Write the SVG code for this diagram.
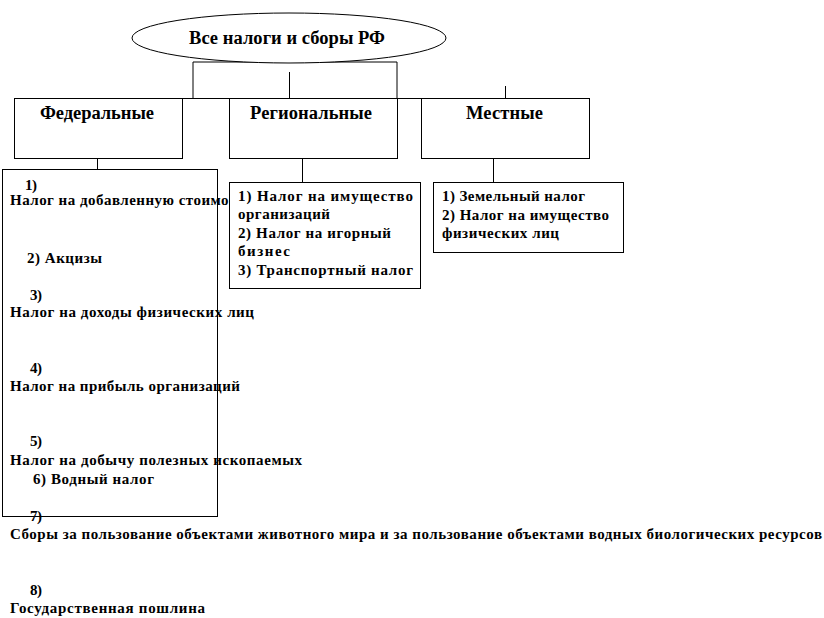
<svg xmlns="http://www.w3.org/2000/svg" width="824" height="618" viewBox="0 0 824 618">
<style>
.ln{stroke:#000;stroke-width:1;fill:none}
.bx{stroke:#000;stroke-width:1;fill:#fff}
.h{font-family:"Liberation Serif","Times New Roman","DejaVu Serif",serif;font-weight:bold;font-size:18.5px;fill:#000}
.t{font-family:"Liberation Serif","Times New Roman","DejaVu Serif",serif;font-weight:bold;font-size:15px;fill:#000}
</style>
<rect width="824" height="618" fill="#fff"/>
<g id="connectors">
<polyline class="ln" points="193,98 193,62 397,62 397,98"/>
<line class="ln" x1="289.5" y1="72" x2="289.5" y2="98"/>
<line class="ln" x1="505.5" y1="86" x2="505.5" y2="98"/>
<line class="ln" x1="182" y1="98.5" x2="229" y2="98.5"/>
<line class="ln" x1="397" y1="98.5" x2="421" y2="98.5"/>
<line class="ln" x1="97.5" y1="158" x2="97.5" y2="169"/>
<line class="ln" x1="302.5" y1="158" x2="302.5" y2="182"/>
<line class="ln" x1="493.5" y1="158" x2="493.5" y2="182"/>
</g>
<g id="root">
<ellipse class="bx" cx="289" cy="38" rx="157" ry="25"/>
<text class="h" x="189" y="44" font-size="19" textLength="196">Все налоги и сборы РФ</text>
</g>
<g id="federal">
<rect class="bx" x="14.5" y="98.5" width="168" height="60"/>
<text class="h" x="40" y="119" textLength="114">Федеральные</text>
</g>
<g id="regional">
<rect class="bx" x="229.5" y="98.5" width="168" height="60"/>
<text class="h" x="250" y="119" textLength="122">Региональные</text>
</g>
<g id="local">
<rect class="bx" x="421.5" y="98.5" width="168" height="60"/>
<text class="h" x="466" y="119" textLength="77">Местные</text>
</g>
<g id="federal-list">
<rect class="bx" x="2.5" y="169.5" width="215" height="347"/>
<text class="t" x="25" y="190" textLength="12">1)</text>
<text class="t" x="10" y="205" textLength="242">Налог на добавленную стоимость</text>
<text class="t" x="27" y="263" textLength="75">2) Акцизы</text>
<text class="t" x="30" y="300" textLength="12">3)</text>
<text class="t" x="10" y="317" textLength="244">Налог на доходы физических лиц</text>
<text class="t" x="30" y="373" textLength="12">4)</text>
<text class="t" x="10" y="391" textLength="230">Налог на прибыль организаций</text>
<text class="t" x="30" y="446" textLength="12">5)</text>
<text class="t" x="10" y="465" textLength="292">Налог на добычу полезных ископаемых</text>
<text class="t" x="33" y="484" textLength="121">6) Водный налог</text>
<text class="t" x="30" y="521" textLength="12">7)</text>
<text class="t" x="10" y="539" textLength="812">Сборы за пользование объектами животного мира и за пользование объектами водных биологических ресурсов</text>
<text class="t" x="30" y="595" textLength="12">8)</text>
<text class="t" x="10" y="613" textLength="195">Государственная пошлина</text>
</g>
<g id="regional-list">
<rect class="bx" x="229.5" y="182.5" width="191" height="106"/>
<text class="t" x="238" y="201" textLength="175">1) Налог на имущество</text>
<text class="t" x="238" y="219" textLength="92">организаций</text>
<text class="t" x="238" y="238" textLength="153">2) Налог на игорный</text>
<text class="t" x="238" y="256" textLength="52">бизнес</text>
<text class="t" x="238" y="275" textLength="175">3) Транспортный налог</text>
</g>
<g id="local-list">
<rect class="bx" x="433.5" y="182.5" width="190" height="70"/>
<text class="t" x="442" y="201" textLength="143">1) Земельный налог</text>
<text class="t" x="442" y="220" textLength="167">2) Налог на имущество</text>
<text class="t" x="442" y="238" textLength="117">физических лиц</text>
</g>
</svg>
